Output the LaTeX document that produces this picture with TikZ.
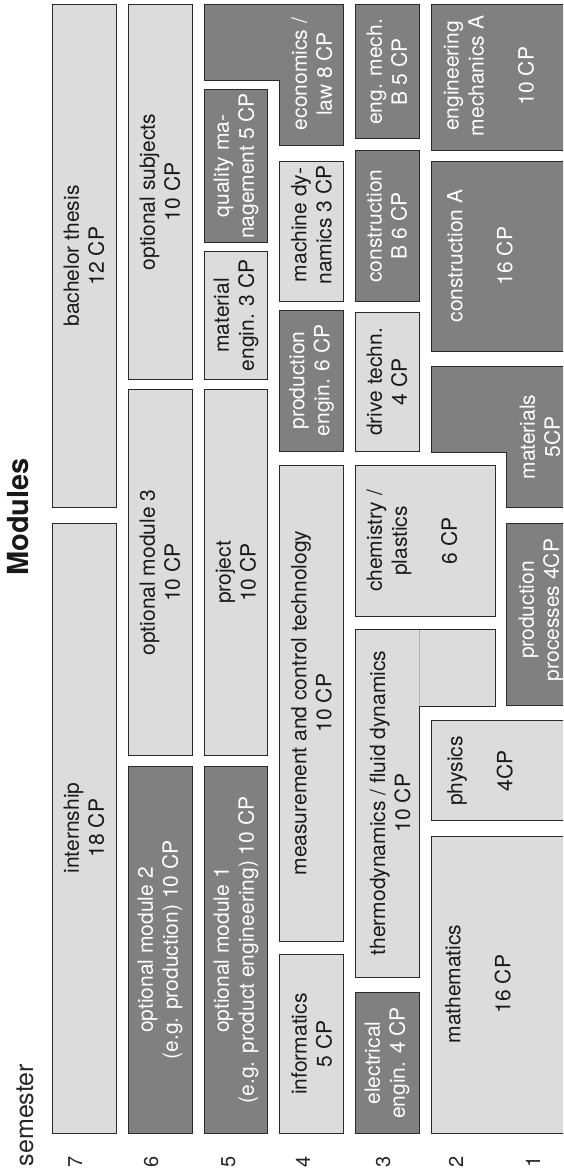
\documentclass[tikz,border=0pt]{standalone}
\usepackage{fontspec}
\newfontfamily\heros{TeX Gyre Heros}
\newcommand\boxfont{\heros\fontsize{21}{25}\selectfont}
\definecolor{lightfill}{HTML}{DCDCDC}
\definecolor{darkfill}{HTML}{808080}
\definecolor{edge}{HTML}{2A2A2A}
\tikzset{
  lbox/.style={draw=edge, fill=lightfill, line width=0.9pt},
  dbox/.style={draw=edge, fill=darkfill, line width=0.9pt},
  ltxt/.style={rotate=90, align=center, inner sep=0pt, text=black!90, font=\boxfont},
  dtxt/.style={rotate=90, align=center, inner sep=0pt, text=white, font=\boxfont},
  numtxt/.style={rotate=90, anchor=base, inner sep=0pt, text=black!85, font=\heros\fontsize{20}{24}\selectfont},
}
\begin{document}
\begin{tikzpicture}[x=1pt,y=-1pt]
\path[use as bounding box] (0,0) rectangle (563,1172);
\clip (0,0) rectangle (563,1172);
% semester 7
\draw[lbox] (52.3,4.3) rectangle (116.3,507.7);
\node[ltxt] (bachelor) at (84,256) {bachelor thesis\\12 CP};
\draw[lbox] (52.3,523.3) rectangle (116.3,1133.3);
\node[ltxt] (internship) at (84,828) {internship\\18 CP};
% semester 6
\draw[lbox] (128.3,4.3) rectangle (192,379.3);
\node[ltxt] (optsubj) at (160,192) {optional subjects\\10 CP};
\draw[lbox] (128.3,389.3) rectangle (192,755.7);
\node[ltxt] (opt3) at (160,572.5) {optional module 3\\10 CP};
\draw[dbox] (128.3,766) rectangle (192,1133.3);
\node[dtxt] (opt2) at (160,950) {optional module 2\\(e.g. production) 10 CP};
% semester 5 / 4
\draw[dbox] (204,4.3) -- (343.3,4.3) -- (343.3,145.7) -- (279.7,145.7) -- (279.7,80) -- (204,80) -- cycle;
\node[dtxt] (econ) at (312,74) {economics /\\law 8 CP};
\draw[dbox] (204,89.3) rectangle (267.7,242.3);
\node[dtxt] (quality) at (236,166) {quality ma-\\nagement 5 CP};
\draw[lbox] (204,251.7) rectangle (267.7,379.3);
\node[ltxt] (material) at (236,315.5) {material\\engin. 3 CP};
\draw[lbox] (204,389.3) rectangle (267.7,755.7);
\node[ltxt] (project) at (236,572.5) {project\\10 CP};
\draw[dbox] (204,766) rectangle (267.7,1133.3);
\node[dtxt] (opt1) at (236,950) {optional module 1\\(e.g. product engineering) 10 CP};
% semester 4
\draw[lbox] (279.7,161.7) rectangle (343.3,301);
\node[ltxt] (machine) at (311.5,225) {machine dy-\\namics 3 CP};
\draw[dbox] (279.7,310) rectangle (343.3,451);
\node[dtxt] (prodeng) at (311.5,380.5) {production\\engin. 6 CP};
\draw[lbox] (279.7,465.7) rectangle (343.3,941);
\node[ltxt] (measure) at (311.5,703) {measurement and control technology\\10 CP};
\draw[lbox] (279.7,954.3) rectangle (343.3,1133.3);
\node[ltxt] (informatics) at (311.5,1044) {informatics\\5 CP};
% semester 3
\draw[dbox] (355.3,4.3) rectangle (419,138.3);
\node[dtxt] (engmechB) at (387,72) {eng. mech.\\B 5 CP};
\draw[dbox] (355.3,150.7) rectangle (419,301);
\node[dtxt] (constrB) at (387,226) {construction\\B 6 CP};
\draw[lbox] (355.3,312.7) rectangle (419,451);
\node[ltxt] (drive) at (387,382) {drive techn.\\4 CP};
\draw[lbox] (355.3,465.7) rectangle (495,616);
\node[ltxt] (chem) at (412,541) {chemistry /\\plastics\\[25pt]6 CP};
\draw[lbox] (355.3,629.3) -- (495,629.3) -- (495,706.7) -- (419,706.7) -- (419,977.3) -- (355.3,977.3) -- cycle;
\draw[black!30, line width=0.6pt] (419,630) -- (419,706);
\node[ltxt] (thermo) at (390,803) {thermodynamics / fluid dynamics\\10 CP};
\draw[dbox] (355.3,992.7) rectangle (419,1133.3);
\node[dtxt] (elec) at (387,1063) {electrical\\engin. 4 CP};
% semesters 2 and 1
\draw[dbox] (431.3,4.3) rectangle (570,150);
\node[dtxt] (engmechA) at (489,76) {engineering\\mechanics A\\[25pt]10 CP};
\draw[dbox] (431.3,161.7) rectangle (570,351);
\node[dtxt] (constrA) at (480,256) {construction A\\[25pt]16 CP};
\draw[dbox] (431.3,366.7) -- (570,366.7) -- (570,507.7) -- (506.7,507.7) -- (506.7,452.3) -- (431.3,452.3) -- cycle;
\node[dtxt] (materials) at (540,437) {materials\\5CP};
\draw[dbox] (506.7,523.3) rectangle (570,705);
\node[dtxt] (prodproc) at (541,610) {production\\processes 4CP};
\draw[lbox] (431.3,720.7) rectangle (570,820.7);
\node[ltxt] (physics) at (480,771) {physics\\[25pt]4CP};
\draw[lbox] (431.3,836.7) rectangle (570,1133.3);
\node[ltxt] (math) at (478,984) {mathematics\\[25pt]16 CP};
% labels
\node[rotate=90, anchor=base, inner sep=0pt, text=black!90, font=\heros\bfseries\fontsize{29}{34}\selectfont] (modules) at (28,517) {Modules};
\node[rotate=90, anchor=base, inner sep=0pt, text=black!85, font=\heros\fontsize{25}{30}\selectfont] (semester) at (33,1115) {semester};
\node[numtxt] (s7) at (82,1162) {7};
\node[numtxt] (s6) at (158,1162) {6};
\node[numtxt] (s5) at (235,1162) {5};
\node[numtxt] (s4) at (310,1162) {4};
\node[numtxt] (s3) at (390,1162) {3};
\node[numtxt] (s2) at (463,1162) {2};
\node[numtxt] (s1) at (540,1162) {1};
\end{tikzpicture}
\end{document}
